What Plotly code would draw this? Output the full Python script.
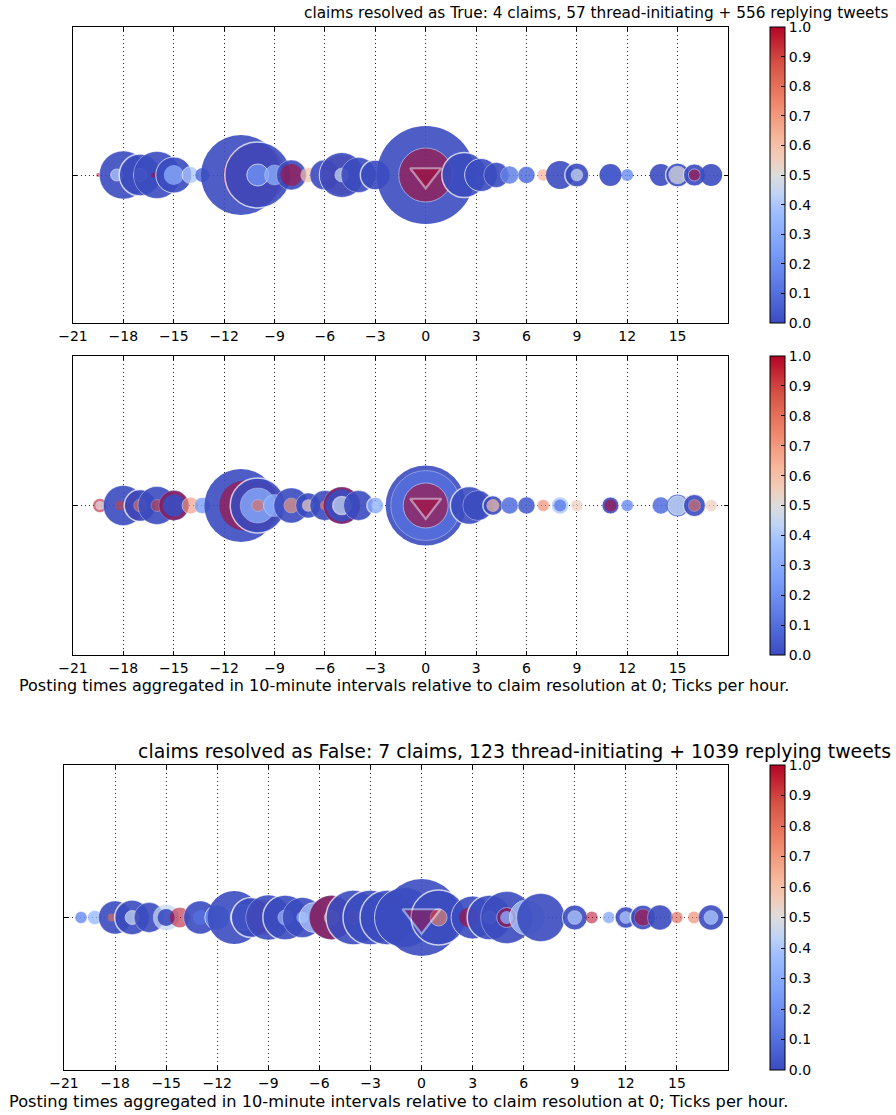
import plotly.graph_objects as go

# ---------------- data ----------------
COOLWARM = [
    [0.0, "#3b4cc0"], [0.125, "#5a78e4"], [0.25, "#7b9ff9"], [0.375, "#9ebeff"],
    [0.4375, "#c0d4f5"], [0.5, "#dddcdc"], [0.5625, "#f2cbb7"], [0.625, "#f7b89c"],
    [0.75, "#ee8468"], [0.875, "#d65244"], [1.0, "#b40426"],
]

X_TICKS = [-21, -18, -15, -12, -9, -6, -3, 0, 3, 6, 9, 12, 15]
X_RANGE = [-21, 18]
CB_TICKS = [0.0, 0.1, 0.2, 0.3, 0.4, 0.5, 0.6, 0.7, 0.8, 0.9, 1.0]
ROW_Y = 0.5

TITLE_TRUE = "claims resolved as True: 4 claims, 57 thread-initiating + 556 replying tweets"
TITLE_FALSE = "claims resolved as False: 7 claims, 123 thread-initiating + 1039 replying tweets"
CAPTION = "Posting times aggregated in 10-minute intervals relative to claim resolution at 0; Ticks per hour."

# panel 1 (True, top)
p1_hours = [-19.5, -18, -18.4, -17, -17, -16, -16.2, -15, -15, -14, -13.3,
            -11, -10.2, -10, -10, -9, -8, -8, -7, -6, -6, -5, -5, -5, -4, -3,
            0, 0,
            2.3, 3.3, 4.2, 5, 6, 7, 8, 9, 9, 11, 11, 12, 14, 15, 15, 16, 16, 17]
p1_sizes = [4, 48, 12, 42, 13, 47, 5, 36, 20, 17, 14,
            80, 62, 66, 22, 20, 30, 22, 15, 30, 12, 40, 45, 14, 35, 30,
            98, 54,
            45, 33, 25, 18, 17, 12, 28, 24, 12, 22, 14, 12, 22, 24, 18, 22, 12, 22]
p1_values = [1.0, 0.0, 0.4, 0.0, 0.2, 0.0, 1.0, 0.0, 0.3, 0.4, 0.1,
             0.0, 1.0, 0.0, 0.2, 0.3, 0.0, 1.0, 0.6, 0.0, 0.45, 1.0, 0.0, 0.45, 0.0, 0.0,
             0.0, 1.0,
             0.0, 0.0, 0.0, 0.15, 0.1, 0.65, 0.0, 0.0, 0.45, 0.0, 0.05, 0.2, 0.0, 0.0, 0.5, 0.0, 1.0, 0.0]
p1_edges = [0, 0.5, 1, 1.5, 1, 0.5, 0, 1, 0, 1, 0,
            0, 0, 1.5, 1, 0.5, 0.5, 0, 0.5, 0.5, 0, 0, 1, 0.5, 0.5, 1.5,
            0, 1,
            1.5, 1, 0.5, 0.5, 0.5, 0.5, 0, 1.5, 0.5, 0, 0, 0, 0, 1.5, 0.5, 1, 1, 0]
p1_marker_value = 1.0

# panel 2 (True, middle)
p2_hours = [-19.4, -19.4, -18, -18.2, -17, -17, -17, -16, -16, -15, -15, -15, -14, -13.3,
            -11, -10.8, -10, -10, -10, -10, -9, -8, -8, -7, -7, -6, -6,
            -5, -5, -5, -5, -4, -3, -3,
            0, 0, 0,
            2.6, 3.1, 4, 4, 5, 6, 7, 8, 8, 9, 11, 11, 12, 14, 15, 15, 16, 16, 17]
p2_sizes = [14, 9, 40, 10, 30, 32, 13, 38, 12, 30, 30, 22, 17, 16,
            73, 50, 50, 55, 35, 12, 22, 35, 15, 25, 12, 30, 10,
            37, 37, 32, 18, 30, 17, 8,
            80, 70, 45,
            38, 30, 20, 13, 17, 17, 12, 17, 12, 12, 17, 12, 12, 17, 22, 19, 22, 12, 12]
p2_values = [1.0, 0.5, 0.0, 0.9, 1.0, 0.0, 0.8, 0.0, 0.9, 0.0, 1.0, 0.0, 0.7, 0.25,
             0.0, 1.0, 1.0, 0.0, 0.3, 0.8, 0.3, 0.0, 0.7, 0.0, 0.55, 0.0, 0.75,
             0.0, 1.0, 0.0, 0.45, 0.0, 0.3, 0.4,
             0.0, 0.1, 1.0,
             0.0, 0.0, 0.0, 0.6, 0.1, 0.05, 0.75, 0.4, 0.15, 0.55, 0.0, 1.0, 0.2, 0.1, 0.1, 0.45, 0.0, 0.8, 0.55]
p2_edges = [0.5, 0, 0.5, 0, 0, 1.5, 0.5, 0.5, 0.5, 0, 0.5, 0, 1, 0.5,
            0, 0, 0, 1.5, 0.5, 0.5, 0.5, 0.5, 0.5, 0.5, 0.5, 0.5, 0,
            0, 0.5, 0, 1.5, 0.5, 1.5, 0,
            0, 0.5, 1,
            1.5, 0.5, 1.5, 0, 0.5, 0.5, 0.5, 0.5, 0, 0.5, 1, 0, 0.5, 0.5, 0, 1, 1, 0.5, 0.5]
p2_marker_value = 1.0

# panel 3 (False, bottom)
p3_hours = [-20, -19.2, -18, -18.2, -17, -17, -16, -15, -15, -14.2, -13, -13, -12,
            -11, -10.5, -10, -9.2, -9, -8, -8, -7, -7, -6.3, -5.3, -5.3, -5.3,
            -4, -4, -3, -2, -1, 0,
            1, 1, 3, 2.8, 4, 4, 5, 5, 5, 6.2, 7, 9, 9, 10, 11, 12, 12, 13, 13, 14, 15, 16, 17, 17]
p3_sizes = [12, 14, 33, 8, 35, 14, 30, 26, 17, 20, 33, 15, 25,
            53, 25, 40, 35, 45, 45, 15, 40, 12, 30, 44, 44, 14,
            55, 13, 55, 55, 60, 77,
            55, 17, 43, 20, 45, 13, 52, 20, 13, 35, 48, 25, 14, 12, 12, 22, 12, 25, 17, 25, 12, 12, 25, 14]
p3_values = [0.2, 0.35, 0.0, 0.8, 0.0, 0.45, 0.0, 0.45, 0.0, 1.0, 0.0, 0.1, 0.2,
             0.0, 0.2, 0.0, 1.0, 0.0, 0.0, 0.3, 0.0, 0.3, 0.4, 0.0, 1.0, 0.8,
             0.0, 0.9, 0.0, 0.0, 0.0, 0.0,
             0.0, 0.75, 0.0, 1.0, 0.0, 0.3, 0.0, 1.0, 0.3, 0.4, 0.0, 0.0, 0.4, 1.0, 0.3, 0.0, 0.4, 0.0, 1.0, 0.0, 0.85, 0.75, 0.0, 0.4]
p3_edges = [0.5, 0.5, 0.5, 0, 1.5, 1, 0.5, 0.5, 0, 0, 0.5, 0, 1,
            0, 1, 1.5, 0, 0.5, 1.5, 0.5, 0.5, 0, 1, 0, 0.5, 1,
            1.5, 0.5, 1.5, 1.5, 1, 0,
            1.5, 1, 1, 0, 1.5, 1, 0.5, 1, 0, 1, 0.5, 1, 0.5, 0, 0.5, 1.5, 0.5, 1.5, 0.5, 0.5, 0.5, 0, 0.5, 0.5]
p3_marker_value = 1.0

# ---------------- layout geometry (pixels of the 896x1115 page) ----------------
W, H = 896, 1115
FONT = "DejaVu Sans"
panels = [
    dict(hours=p1_hours, sizes=p1_sizes, values=p1_values, edges=p1_edges, mval=p1_marker_value,
         x0=73, x1=728, top=27, bottom=323, tri=27),
    dict(hours=p2_hours, sizes=p2_sizes, values=p2_values, edges=p2_edges, mval=p2_marker_value,
         x0=73, x1=728, top=356, bottom=655, tri=27),
    dict(hours=p3_hours, sizes=p3_sizes, values=p3_values, edges=p3_edges, mval=p3_marker_value,
         x0=64, x1=728, top=765, bottom=1070, tri=33),
]


def alpha_for(v):
    # warmer (red) bubbles are drawn more translucent so the blue beneath tints them
    return 0.9 - 0.35 * v


fig = go.Figure()
layout = dict(width=W, height=H, margin=dict(l=0, r=0, t=0, b=0, autoexpand=False),
              paper_bgcolor="white", plot_bgcolor="white", showlegend=False,
              font=dict(family=FONT, size=14, color="black"))

tickfont = dict(family=FONT, size=14, color="black")
for i, p in enumerate(panels, start=1):
    sfx = "" if i == 1 else str(i)
    ca = "coloraxis" + sfx
    xa, ya = "x" + sfx, "y" + sfx
    fig.add_trace(go.Scatter(
        x=p["hours"], y=[ROW_Y] * len(p["hours"]), mode="markers", xaxis=xa, yaxis=ya,
        marker=dict(size=p["sizes"], sizemode="diameter", color=p["values"], coloraxis=ca,
                    opacity=[alpha_for(v) for v in p["values"]],
                    line=dict(color="rgba(255,255,255,0.8)", width=p["edges"])),
        hoverinfo="x"))
    fig.add_trace(go.Scatter(
        x=[0], y=[ROW_Y], mode="markers", xaxis=xa, yaxis=ya,
        marker=dict(symbol="triangle-down", size=p["tri"], color=[p["mval"]], coloraxis=ca,
                    opacity=0.45, line=dict(color="white", width=2.2)),
        hoverinfo="skip"))
    dom_x = [p["x0"] / W, p["x1"] / W]
    dom_y = [1 - p["bottom"] / H, 1 - p["top"] / H]
    grid = dict(showgrid=True, gridcolor="rgba(0,0,0,0.85)", griddash="1px,3px", gridwidth=1)
    layout["xaxis" + sfx] = dict(
        domain=dom_x, range=X_RANGE, anchor=ya, tickvals=X_TICKS, ticks="inside", ticklen=4,
        tickcolor="black", showline=True, linecolor="black", linewidth=1, mirror="ticks",
        zeroline=False, tickfont=tickfont, fixedrange=True, automargin=False, **grid)
    layout["yaxis" + sfx] = dict(
        domain=dom_y, range=[0, 1], anchor=xa, tickvals=[ROW_Y], showticklabels=False,
        ticks="inside", ticklen=4, tickcolor="black", showline=True, linecolor="black",
        linewidth=1, mirror="ticks", zeroline=False, fixedrange=True, automargin=False, **grid)
    layout[ca] = dict(
        colorscale=COOLWARM, cmin=0, cmax=1,
        colorbar=dict(x=770 / W, xanchor="left", xpad=0, ypad=0, thickness=15,
                      len=(p["bottom"] - p["top"]) / H, lenmode="fraction",
                      y=1 - (p["top"] + p["bottom"]) / 2 / H, yanchor="middle",
                      tickvals=CB_TICKS, tickformat=".1f", ticks="inside", ticklen=4,
                      tickcolor="black", outlinecolor="black", outlinewidth=1,
                      tickfont=tickfont))

fig.update_layout(**layout)

fig.add_annotation(text=TITLE_TRUE, xref="paper", yref="paper", x=890 / W, y=1 - 13 / H,
                   xanchor="right", yanchor="middle", showarrow=False,
                   font=dict(family=FONT, size=15.3, color="black"))
fig.add_annotation(text=CAPTION, xref="paper", yref="paper", x=17 / W, y=1 - 685 / H,
                   xanchor="left", yanchor="middle", showarrow=False,
                   font=dict(family=FONT, size=16, color="black"))
fig.add_annotation(text=TITLE_FALSE, xref="paper", yref="paper", x=893 / W, y=1 - 751 / H,
                   xanchor="right", yanchor="middle", showarrow=False,
                   font=dict(family=FONT, size=18.9, color="black"))
fig.add_annotation(text=CAPTION, xref="paper", yref="paper", x=7 / W, y=1 - 1101 / H,
                   xanchor="left", yanchor="middle", showarrow=False,
                   font=dict(family=FONT, size=16.2, color="black"))

fig.write_html("out.html", config={"displayModeBar": False},
               post_script="document.body.style.margin='0px';document.body.style.overflow='hidden';")
